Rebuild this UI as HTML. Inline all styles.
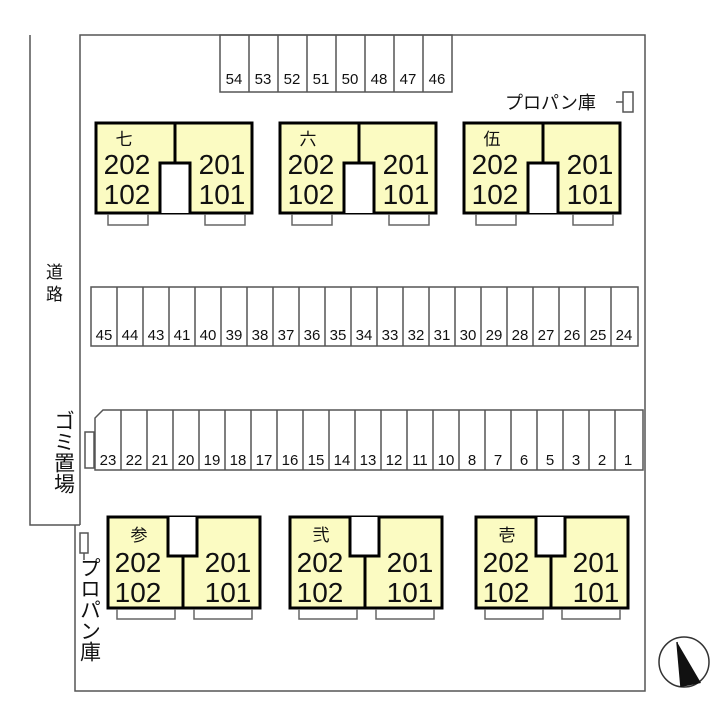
<!DOCTYPE html>
<html><head><meta charset="utf-8"><style>
html,body{margin:0;padding:0;background:#fff;}
svg{display:block;}
text{font-family:"Liberation Sans","Noto Sans CJK JP",sans-serif;fill:#111;}
.n{font-size:15px;text-anchor:middle;}
.b{font-size:28px;text-anchor:middle;}
.k{font-size:17px;text-anchor:middle;}
.j{font-size:18px;}
</style></head><body>
<svg width="720" height="720" viewBox="0 0 720 720" xmlns="http://www.w3.org/2000/svg">
<g fill="none" stroke="#555" stroke-width="1.5">
<path d="M80 525 V35 H645 V691 H75 V525"/>
<path d="M30 35 V525 H80"/>
<rect x="220" y="35" width="232" height="57"/>
<path d="M249 35V92M278 35V92M307 35V92M336 35V92M365 35V92M394 35V92M423 35V92"/>
<rect x="91" y="287" width="547" height="59"/>
<path d="M117 287V346M143 287V346M169 287V346M195 287V346M221 287V346M247 287V346M273 287V346M299 287V346M325 287V346M351 287V346M377 287V346M403 287V346M429 287V346M455 287V346M481 287V346M507 287V346M533 287V346M559 287V346M585 287V346M611 287V346"/>
<path d="M103 410 H643 V470 H95 V418 Z"/>
<path d="M121 410V470M147 410V470M173 410V470M199 410V470M225 410V470M251 410V470M277 410V470M303 410V470M329 410V470M355 410V470M381 410V470M407 410V470M433 410V470M459 410V470M485 410V470M511 410V470M537 410V470M563 410V470M589 410V470M615 410V470"/>
<rect x="85" y="432" width="9" height="36"/>
<rect x="623" y="92" width="10" height="20"/>
<path d="M616 102H623"/>
<rect x="80" y="533" width="8" height="20"/>
<path d="M84 553V560"/>
</g>
<text class="n" x="234" y="84">54</text><text class="n" x="263" y="84">53</text><text class="n" x="292" y="84">52</text><text class="n" x="321" y="84">51</text><text class="n" x="350" y="84">50</text><text class="n" x="379" y="84">48</text><text class="n" x="408" y="84">47</text><text class="n" x="437" y="84">46</text>
<text class="n" x="104" y="340">45</text><text class="n" x="130" y="340">44</text><text class="n" x="156" y="340">43</text><text class="n" x="182" y="340">41</text><text class="n" x="208" y="340">40</text><text class="n" x="234" y="340">39</text><text class="n" x="260" y="340">38</text><text class="n" x="286" y="340">37</text><text class="n" x="312" y="340">36</text><text class="n" x="338" y="340">35</text><text class="n" x="364" y="340">34</text><text class="n" x="390" y="340">33</text><text class="n" x="416" y="340">32</text><text class="n" x="442" y="340">31</text><text class="n" x="468" y="340">30</text><text class="n" x="494" y="340">29</text><text class="n" x="520" y="340">28</text><text class="n" x="546" y="340">27</text><text class="n" x="572" y="340">26</text><text class="n" x="598" y="340">25</text><text class="n" x="624" y="340">24</text>
<text class="n" x="108" y="465">23</text><text class="n" x="134" y="465">22</text><text class="n" x="160" y="465">21</text><text class="n" x="186" y="465">20</text><text class="n" x="212" y="465">19</text><text class="n" x="238" y="465">18</text><text class="n" x="264" y="465">17</text><text class="n" x="290" y="465">16</text><text class="n" x="316" y="465">15</text><text class="n" x="342" y="465">14</text><text class="n" x="368" y="465">13</text><text class="n" x="394" y="465">12</text><text class="n" x="420" y="465">11</text><text class="n" x="446" y="465">10</text><text class="n" x="472" y="465">8</text><text class="n" x="498" y="465">7</text><text class="n" x="524" y="465">6</text><text class="n" x="550" y="465">5</text><text class="n" x="576" y="465">3</text><text class="n" x="602" y="465">2</text><text class="n" x="628" y="465">1</text>

<g transform="translate(96,0)">
<rect x="0" y="123" width="156" height="90" fill="#fbfbc2" stroke="#000" stroke-width="3"/>
<path d="M64 213V163H94V213" fill="#fff" stroke="#000" stroke-width="3"/>
<path d="M79 123V163" stroke="#000" stroke-width="3"/>
<path d="M12 214V225H52V214M109 214V225H149V214" fill="none" stroke="#666" stroke-width="1.5"/>
</g>
<g transform="translate(280,0)">
<rect x="0" y="123" width="156" height="90" fill="#fbfbc2" stroke="#000" stroke-width="3"/>
<path d="M64 213V163H94V213" fill="#fff" stroke="#000" stroke-width="3"/>
<path d="M79 123V163" stroke="#000" stroke-width="3"/>
<path d="M12 214V225H52V214M109 214V225H149V214" fill="none" stroke="#666" stroke-width="1.5"/>
</g>
<g transform="translate(464,0)">
<rect x="0" y="123" width="156" height="90" fill="#fbfbc2" stroke="#000" stroke-width="3"/>
<path d="M64 213V163H94V213" fill="#fff" stroke="#000" stroke-width="3"/>
<path d="M79 123V163" stroke="#000" stroke-width="3"/>
<path d="M12 214V225H52V214M109 214V225H149V214" fill="none" stroke="#666" stroke-width="1.5"/>
</g>
<text class="k" x="124" y="145">七</text><text class="b" x="127" y="174">202</text><text class="b" x="127" y="204">102</text><text class="b" x="222" y="174">201</text><text class="b" x="222" y="204">101</text>
<text class="k" x="308" y="145">六</text><text class="b" x="311" y="174">202</text><text class="b" x="311" y="204">102</text><text class="b" x="406" y="174">201</text><text class="b" x="406" y="204">101</text>
<text class="k" x="492" y="145">伍</text><text class="b" x="495" y="174">202</text><text class="b" x="495" y="204">102</text><text class="b" x="590" y="174">201</text><text class="b" x="590" y="204">101</text>

<g transform="translate(108,0)">
<rect x="0" y="517" width="152" height="91" fill="#fbfbc2" stroke="#000" stroke-width="3"/>
<path d="M60 517V556H89V517" fill="#fff" stroke="#000" stroke-width="3"/>
<path d="M75 556V608" stroke="#000" stroke-width="3"/>
<path d="M9 609V619H67V609M86 609V619H144V609" fill="none" stroke="#666" stroke-width="1.5"/>
</g>
<g transform="translate(290,0)">
<rect x="0" y="517" width="152" height="91" fill="#fbfbc2" stroke="#000" stroke-width="3"/>
<path d="M60 517V556H89V517" fill="#fff" stroke="#000" stroke-width="3"/>
<path d="M75 556V608" stroke="#000" stroke-width="3"/>
<path d="M9 609V619H67V609M86 609V619H144V609" fill="none" stroke="#666" stroke-width="1.5"/>
</g>
<g transform="translate(476,0)">
<rect x="0" y="517" width="152" height="91" fill="#fbfbc2" stroke="#000" stroke-width="3"/>
<path d="M60 517V556H89V517" fill="#fff" stroke="#000" stroke-width="3"/>
<path d="M75 556V608" stroke="#000" stroke-width="3"/>
<path d="M9 609V619H67V609M86 609V619H144V609" fill="none" stroke="#666" stroke-width="1.5"/>
</g>
<text class="k" x="139" y="541">参</text><text class="b" x="138" y="572">202</text><text class="b" x="138" y="602">102</text><text class="b" x="228" y="572">201</text><text class="b" x="228" y="602">101</text>
<text class="k" x="321" y="541">弐</text><text class="b" x="320" y="572">202</text><text class="b" x="320" y="602">102</text><text class="b" x="410" y="572">201</text><text class="b" x="410" y="602">101</text>
<text class="k" x="507" y="541">壱</text><text class="b" x="506" y="572">202</text><text class="b" x="506" y="602">102</text><text class="b" x="596" y="572">201</text><text class="b" x="596" y="602">101</text>

<text x="505" y="109" style="font-size:18px">プロパン庫</text>
<text x="46" y="278" style="font-size:17px">道</text>
<text x="46" y="300" style="font-size:17px">路</text>
<text x="63" y="410" style="font-size:21px;writing-mode:vertical-rl;">ゴミ置場</text>
<text x="89" y="557" style="font-size:21px;writing-mode:vertical-rl;">プロパン庫</text>

<circle cx="684" cy="662" r="25" fill="none" stroke="#333" stroke-width="1.5"/>
<path d="M677 642 L701 683 L681 687 Z" fill="#111"/>
<path d="M677 642 L681 687" stroke="#111" stroke-width="1.5"/>
</svg>
</body></html>
